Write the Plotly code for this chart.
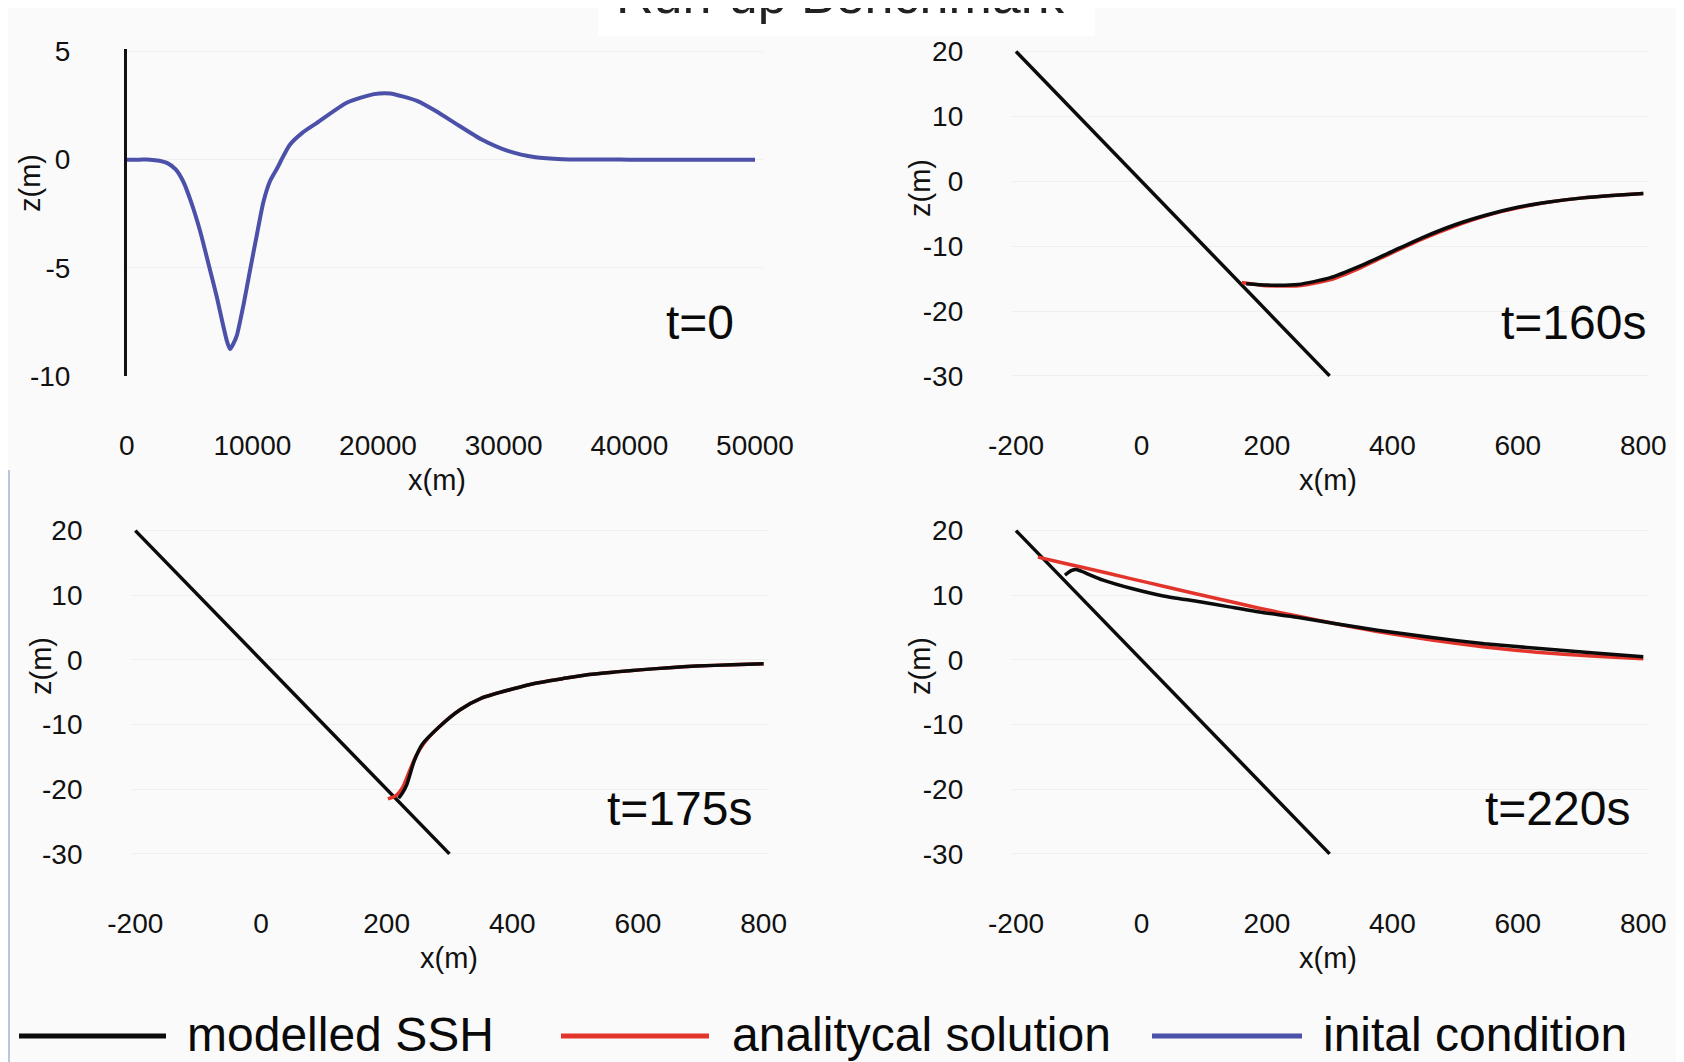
import plotly.graph_objects as go

W, H = 1684, 1062
OFF = 8  # page body margin: reference pixel p -> figure pixel p - OFF
FONT = "Liberation Sans, Arial, sans-serif"

# ---------------- data ----------------
# Panel t=0 : initial condition
ic_x = [0, 1000, 1860, 2600, 3200, 3900, 4490, 5150, 5840, 6500, 7190, 7650, 7980, 8225, 8500,
        8780, 9300, 9820, 10350, 10860, 11400, 11970, 12500, 13000, 14000, 15140, 17550, 19690,
        20960, 23100, 24600, 26100, 28250, 30390, 32530, 34670, 40000, 45000, 50000]
ic_z = [0, 0, 0, -0.05, -0.15, -0.45, -1.0, -2.0, -3.3, -4.8, -6.4, -7.6, -8.4, -8.76, -8.5,
        -8.1, -6.7, -5.1, -3.5, -2.0, -1.0, -0.4, 0.2, 0.7, 1.25, 1.7, 2.64, 3.03,
        3.06, 2.72, 2.25, 1.7, 0.93, 0.39, 0.11, 0.02, 0, 0, 0]

# Sloping beach (same in panels t=160s, 175s, 220s)
slope_x = [-200, 300]
slope_z = [20, -30]

# t=160s
m160_x = [167, 200, 250, 300, 350, 400, 450, 500, 550, 600, 650, 700, 750, 800]
m160_z = [-15.8, -16.0, -15.9, -14.9, -13.0, -10.8, -8.6, -6.7, -5.2, -4.0, -3.2, -2.6, -2.2, -1.9]
a160_x = [160, 200, 250, 300, 350, 400, 450, 500, 550, 600, 650, 700, 750, 800]
a160_z = [-15.6, -16.1, -16.1, -15.2, -13.3, -11.0, -8.8, -6.9, -5.3, -4.1, -3.2, -2.6, -2.2, -1.9]

# t=175s
m175_x = [219, 225, 232, 244, 257, 283, 317, 351, 400, 437, 480, 522, 565, 608, 650, 693, 750, 800]
m175_z = [-21.4, -20.6, -19.3, -15.6, -13.0, -10.4, -7.7, -5.9, -4.5, -3.6, -2.9, -2.25, -1.85, -1.5, -1.2, -0.95, -0.75, -0.6]
a175_x = [202, 215, 225, 235, 246, 260, 283, 317, 351, 400, 437, 480, 522, 565, 608, 650, 693, 750, 800]
a175_z = [-21.5, -21.0, -19.8, -17.5, -15.0, -12.8, -10.4, -7.7, -5.9, -4.5, -3.6, -2.9, -2.25, -1.85, -1.5, -1.2, -0.95, -0.75, -0.6]

# t=220s
m220_x = [-122, -112, -104, -95, -88, -60, -14, 35, 93, 140, 188, 248, 310, 376, 460, 547, 630, 717, 800]
m220_z = [13.1, 13.8, 14.0, 13.7, 13.4, 12.3, 11.0, 9.9, 9.0, 8.2, 7.4, 6.6, 5.6, 4.6, 3.5, 2.5, 1.8, 1.1, 0.5]
a220_x = [-165, -130, -93, -14, 35, 120, 188, 248, 310, 376, 460, 547, 630, 717, 800]
a220_z = [15.9, 15.1, 14.3, 12.5, 11.4, 9.5, 8.0, 6.8, 5.6, 4.4, 3.1, 2.0, 1.2, 0.6, 0.2]

x_ticks_ic = [0, 10000, 20000, 30000, 40000, 50000]
x_text_ic = ["0", "10000", "20000", "30000", "40000", "50000"]
y_ticks_ic = [5, 0, -5, -10]
y_text_ic = ["5", "0", "-5", "-10"]
x_ticks = [-200, 0, 200, 400, 600, 800]
x_text = ["-200", "0", "200", "400", "600", "800"]
y_ticks = [20, 10, 0, -10, -20, -30]
y_text = ["20", "10", "0", "-10", "-20", "-30"]

panel_labels = ["t=0", "t=160s", "t=175s", "t=220s"]
legend_names = ["modelled SSH", "analitycal solution", "inital condition"]
C_BLACK, C_RED, C_BLUE = "#0b0b0b", "#e3342b", "#4b50a8"

# ---------------- layout helpers (pixel calibration) ----------------
def xdom(p0, v0, p1, v1, lo, hi):
    p0, p1 = p0 - OFF, p1 - OFF
    k = (p1 - p0) / (v1 - v0)
    return [(p0 + (lo - v0) * k) / W, (p0 + (hi - v0) * k) / W]

def ydom(p0, v0, p1, v1, lo, hi):
    p0, p1 = p0 - OFF, p1 - OFF
    k = (p1 - p0) / (v1 - v0)
    return [1 - (p0 + (lo - v0) * k) / H, 1 - (p0 + (hi - v0) * k) / H]

def px(x, y):
    return (x - OFF) / W, 1 - (y - OFF) / H

fig = go.Figure()

def add(x, y, color, width, xa, ya):
    fig.add_trace(go.Scatter(x=x, y=y, mode="lines", xaxis=xa, yaxis=ya,
                             line=dict(color=color, width=width, shape="spline", smoothing=0.6),
                             showlegend=False, hoverinfo="skip"))

add(ic_x, ic_z, C_BLUE, 4, "x", "y")
for i, (ax, ay, bx, by) in enumerate([(a160_x, a160_z, m160_x, m160_z),
                                      (a175_x, a175_z, m175_x, m175_z),
                                      (a220_x, a220_z, m220_x, m220_z)]):
    xa, ya = f"x{i+2}", f"y{i+2}"
    fig.add_trace(go.Scatter(x=slope_x, y=slope_z, mode="lines", xaxis=xa, yaxis=ya,
                             line=dict(color=C_BLACK, width=3.5), showlegend=False, hoverinfo="skip"))
    add(ax, ay, C_RED, 3.5, xa, ya)
    add(bx, by, C_BLACK, 3.5, xa, ya)

tickfont = dict(family=FONT, size=28, color="#111")
common_x = dict(showgrid=False, zeroline=False, showline=False, ticks="", automargin=False,
                tickfont=tickfont)
common_y = dict(showgrid=True, gridcolor="#efefef", gridwidth=1, zeroline=False, showline=False,
                automargin=False, ticks="", tickfont=tickfont, ticklabelstandoff=48)

xr_ic = [0, 50600]
yr_ic = [-10, 5.1]
xr = [-206, 808]
yr = [-30.6, 20.6]

layout = dict(
    width=W, height=H, margin=dict(l=0, r=0, t=0, b=0, autoexpand=False),
    paper_bgcolor="#fafafa", plot_bgcolor="#fafafa",
    font=dict(family=FONT),
    xaxis=dict(common_x, domain=xdom(126.7, 0, 755.0, 50000, *xr_ic), range=xr_ic,
               tickvals=x_ticks_ic, ticktext=x_text_ic, anchor="y", ticklabelstandoff=50),
    yaxis=dict(common_y, domain=ydom(51.5, 5, 375.9, -10, *yr_ic), range=yr_ic,
               tickvals=y_ticks_ic, ticktext=y_text_ic, anchor="x",
               showline=True, linecolor="#111", linewidth=2.5),
    xaxis2=dict(common_x, domain=xdom(1016.0, -200, 1643.3, 800, *xr), range=xr,
                tickvals=x_ticks, ticktext=x_text, anchor="y2", ticklabelstandoff=46),
    yaxis2=dict(common_y, domain=ydom(51.5, 20, 375.9, -30, *yr), range=yr,
                tickvals=y_ticks, ticktext=y_text, anchor="x2"),
    xaxis3=dict(common_x, domain=xdom(135.3, -200, 763.6, 800, *xr), range=xr,
                tickvals=x_ticks, ticktext=x_text, anchor="y3", ticklabelstandoff=46),
    yaxis3=dict(common_y, domain=ydom(530.6, 20, 853.9, -30, *yr), range=yr,
                tickvals=y_ticks, ticktext=y_text, anchor="x3"),
    xaxis4=dict(common_x, domain=xdom(1016.0, -200, 1643.3, 800, *xr), range=xr,
                tickvals=x_ticks, ticktext=x_text, anchor="y4", ticklabelstandoff=46),
    yaxis4=dict(common_y, domain=ydom(530.6, 20, 853.9, -30, *yr), range=yr,
                tickvals=y_ticks, ticktext=y_text, anchor="x4"),
)
fig.update_layout(layout)

ann = []
# panel time labels
for txt, (x, y) in zip(panel_labels, [(700, 322), (1573, 322), (679, 808), (1557, 808)]):
    ax_, ay_ = px(x, y)
    ann.append(dict(text=txt, x=ax_, y=ay_, xref="paper", yref="paper", showarrow=False,
                    font=dict(family=FONT, size=48, color="#0a0a0a"), xanchor="center", yanchor="middle"))
# axis titles
for (x, y) in [(437, 480), (1328, 480), (449, 958), (1328, 958)]:
    ax_, ay_ = px(x, y)
    ann.append(dict(text="x(m)", x=ax_, y=ay_, xref="paper", yref="paper", showarrow=False,
                    font=dict(family=FONT, size=29, color="#111"), xanchor="center", yanchor="middle"))
for (x, y) in [(30, 183), (920, 188), (41, 666), (920, 666)]:
    ax_, ay_ = px(x, y)
    ann.append(dict(text="z(m)", x=ax_, y=ay_, xref="paper", yref="paper", showarrow=False,
                    textangle=-90, font=dict(family=FONT, size=29, color="#111"),
                    xanchor="center", yanchor="middle"))
# title (partly cut off at the top, as in the reference)
tx_, ty_ = px(840, 26)
ann.append(dict(text="Run-up Benchmark", x=tx_, y=ty_, xref="paper", yref="paper",
                showarrow=False, font=dict(family=FONT, size=52, color="#222"),
                xanchor="center", yanchor="bottom"))

bx0, by0 = px(598, 36)
bx1, _ = px(1095, 0)
lx, ly = px(9, 470)
shapes = [dict(type="rect", xref="paper", yref="paper", x0=bx0, x1=bx1, y0=by0, y1=1.0,
               fillcolor="white", line=dict(width=0), layer="below"),
          dict(type="line", xref="paper", yref="paper", x0=lx, x1=lx, y0=0, y1=ly,
               line=dict(color="#b9c6de", width=2))]
# manual legend
for name, color, (lx0, lx1, tx) in zip(legend_names, [C_BLACK, C_RED, C_BLUE],
                                       [(19, 166, 185), (561, 709, 730), (1152, 1302, 1321)]):
    x0p, yl = px(lx0, 1036)
    x1p, _ = px(lx1, 1036)
    shapes.append(dict(type="line", xref="paper", yref="paper", x0=x0p, x1=x1p, y0=yl, y1=yl,
                       line=dict(color=color, width=5)))
    txp, typ = px(tx, 1034)
    ann.append(dict(text=name, x=txp, y=typ, xref="paper", yref="paper", showarrow=False,
                    font=dict(family=FONT, size=48, color="#0a0a0a"), xanchor="left", yanchor="middle"))

fig.update_layout(annotations=ann, shapes=shapes)
fig.write_html("out.html")
